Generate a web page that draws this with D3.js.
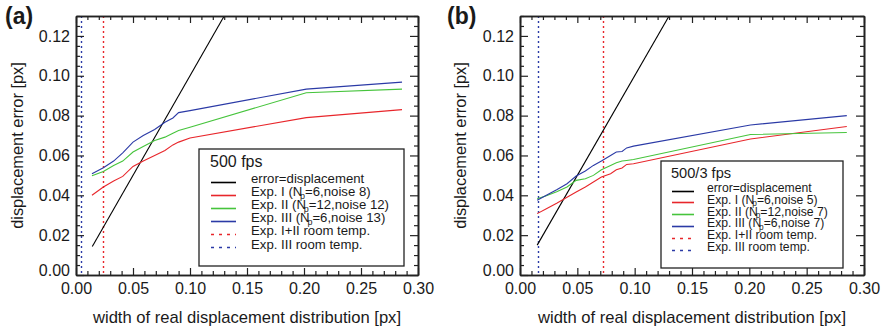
<!DOCTYPE html>
<html><head><meta charset="utf-8">
<script src="https://cdn.jsdelivr.net/npm/d3@7"></script>
<style>
body{margin:0;background:#fff;}
text{font-family:"Liberation Sans",Arial,Helvetica,sans-serif;fill:#1a1a1a;}
</style></head>
<body><svg id="c" width="886" height="332"></svg>
<script>
// ---------- data ----------
const xTicks = [0.00,0.05,0.10,0.15,0.20,0.25,0.30];
const yTicks = [0.00,0.02,0.04,0.06,0.08,0.10,0.12];

// panel (a) 500 fps
const xA    = [0.014,0.024,0.033,0.041,0.050,0.059,0.069,0.078,0.085,0.090,0.100,0.202,0.286];
const expIA  = [0.0400,0.0442,0.0472,0.0495,0.0545,0.0572,0.0600,0.0625,0.0653,0.0667,0.0688,0.0790,0.0830];
const expIIA = [0.0498,0.0520,0.0550,0.0572,0.0617,0.0645,0.0675,0.0692,0.0712,0.0725,0.0742,0.0915,0.0933];
const expIIIA= [0.0508,0.0538,0.0572,0.0613,0.0667,0.0700,0.0730,0.0767,0.0788,0.0815,0.0825,0.0933,0.0968];
const errXA = [0.0143,0.13], errYA = [0.0143,0.13];
const roomA = {I_II:0.024, III:0.0044};

// panel (b) 500/3 fps
const xB    = [0.015,0.023,0.032,0.041,0.049,0.057,0.064,0.071,0.079,0.084,0.089,0.093,0.099,0.201,0.285];
const expIB  = [0.0308,0.0332,0.0360,0.0390,0.0417,0.0442,0.0467,0.0492,0.0508,0.0528,0.0537,0.0555,0.0558,0.0683,0.0745];
const expIIB = [0.0383,0.0398,0.0418,0.0442,0.0475,0.0483,0.0500,0.0528,0.0550,0.0563,0.0572,0.0575,0.0580,0.0705,0.0715];
const expIIIB= [0.0375,0.0400,0.0428,0.0458,0.0497,0.0522,0.0550,0.0572,0.0600,0.0617,0.0620,0.0638,0.0647,0.0753,0.0800];
const errXB = [0.015,0.13], errYB = [0.015,0.13];
const roomB = {I_II:0.0724, III:0.0153};

const legendA = {title:"500 fps", noise:[8,12,13]};
const legendB = {title:"500/3 fps", noise:[5,7,7]};

const COL = {black:"#000", red:"#e8262b", green:"#46c43c", blue:"#2b3aa6"};

// ---------- drawing ----------
const svg = d3.select("#c");

function panel(o){
  const g = svg.append("g");
  const x = d3.scaleLinear().domain([0,0.30]).range([o.left,o.right]);
  const y = d3.scaleLinear().domain([0,0.13]).range([o.bottom,o.top]);
  const clipId = "clip"+o.id;
  g.append("clipPath").attr("id",clipId).append("rect")
    .attr("x",o.left).attr("y",o.top).attr("width",o.right-o.left).attr("height",o.bottom-o.top);

  const plot = g.append("g").attr("clip-path",`url(#${clipId})`);
  // vertical dotted room temp lines
  [[o.room.III,COL.blue],[o.room.I_II,COL.red]].forEach(([v,c])=>{
    const px = Math.round(x(v))+0.5;
    plot.append("line").attr("x1",px).attr("x2",px).attr("y1",o.top).attr("y2",o.bottom)
      .attr("stroke",c).attr("stroke-width",1.4).attr("stroke-dasharray","2,3");
  });
  const line = d3.line().x(d=>x(d[0])).y(d=>y(d[1]));
  const series = [
    [d3.zip(o.errX,o.errY),COL.black],
    [d3.zip(o.xs,o.s1),COL.red],
    [d3.zip(o.xs,o.s2),COL.green],
    [d3.zip(o.xs,o.s3),COL.blue]
  ];
  series.forEach(([d,c])=>{
    plot.append("path").datum(d).attr("d",line).attr("fill","none").attr("stroke",c).attr("stroke-width",1.1);
  });

  // axes
  const xMinor = d3.range(0,0.3001,0.01).filter(v=>Math.abs(v*20-Math.round(v*20))>1e-6);
  const yMinor = d3.range(0,0.1301,0.005).filter(v=>Math.abs(v*50-Math.round(v*50))>1e-6);
  const fmt = d3.format(".2f");
  const styleAx = sel=>{sel.selectAll("path").attr("stroke","#222").attr("stroke-width",1.6);
    sel.selectAll("line").attr("stroke","#222").attr("stroke-width",1.2);
    sel.selectAll("text").attr("font-size","16px").attr("fill","#1a1a1a").attr("font-family",null);};

  const bx = g.append("g").attr("transform",`translate(0,${o.bottom})`)
    .call(d3.axisBottom(x).tickValues(xTicks).tickFormat(fmt).tickSizeInner(-7).tickSizeOuter(0).tickPadding(8));
  styleAx(bx);
  g.append("g").attr("transform",`translate(0,${o.bottom})`)
    .call(d3.axisBottom(x).tickValues(xMinor).tickFormat("").tickSizeInner(-4).tickSizeOuter(0)).call(styleAx);
  g.append("g").attr("transform",`translate(0,${o.top})`)
    .call(d3.axisTop(x).tickValues(xTicks).tickFormat("").tickSizeInner(-7).tickSizeOuter(0)).call(styleAx);
  g.append("g").attr("transform",`translate(0,${o.top})`)
    .call(d3.axisTop(x).tickValues(xMinor).tickFormat("").tickSizeInner(-4).tickSizeOuter(0)).call(styleAx);

  const ly = g.append("g").attr("transform",`translate(${o.left},0)`)
    .call(d3.axisLeft(y).tickValues(yTicks).tickFormat(fmt).tickSizeInner(-8).tickSizeOuter(0).tickPadding(6));
  styleAx(ly);
  ly.selectAll(".tick text").filter(d=>d===0).attr("dy","0.0em");
  g.append("g").attr("transform",`translate(${o.left},0)`)
    .call(d3.axisLeft(y).tickValues(yMinor).tickFormat("").tickSizeInner(-4).tickSizeOuter(0)).call(styleAx);
  g.append("g").attr("transform",`translate(${o.right},0)`)
    .call(d3.axisRight(y).tickValues(yTicks).tickFormat("").tickSizeInner(-8).tickSizeOuter(0)).call(styleAx);
  g.append("g").attr("transform",`translate(${o.right},0)`)
    .call(d3.axisRight(y).tickValues(yMinor).tickFormat("").tickSizeInner(-4).tickSizeOuter(0)).call(styleAx);

  // axis titles
  g.append("text").attr("x",(o.left+o.right)/2).attr("y",323).attr("text-anchor","middle")
    .attr("font-size","16.6px").text("width of real displacement distribution [px]");
  g.append("text").attr("transform",`translate(${o.ylabX},${(o.top+o.bottom)/2}) rotate(-90)`)
    .attr("text-anchor","middle").attr("font-size","16.4px").text("displacement error [px]");
  g.append("text").attr("x",o.tagX).attr("y",24).attr("font-size","23px").attr("font-weight","bold")
    .attr("fill","#111").text(o.tag);

  // legend
  const L = o.leg;
  g.append("rect").attr("x",L.x).attr("y",L.y).attr("width",L.w).attr("height",L.h)
    .attr("fill","#fff").attr("stroke","#222").attr("stroke-width",1.3);
  g.append("text").attr("x",L.tx0).attr("y",L.titleY).attr("font-size",L.titleFs+"px").text(o.legend.title);
  const items = [
    {c:COL.black,dash:null,t:["error=displacement"]},
    {c:COL.red,dash:null,t:["Exp. I (N","p",`=6,noise ${o.legend.noise[0]})`]},
    {c:COL.green,dash:null,t:["Exp. II (N","p",`=12,noise ${o.legend.noise[1]})`]},
    {c:COL.blue,dash:null,t:["Exp. III (N","p",`=6,noise ${o.legend.noise[2]})`]},
    {c:COL.red,dash:"3,5",t:["Exp. I+II room temp."]},
    {c:COL.blue,dash:"3,5",t:["Exp. III room temp."]}
  ];
  items.forEach((it,i)=>{
    const yy = L.row0 + i*L.dy;
    const ly0 = Math.round(yy-L.lineOff)+0.5;
    g.append("line").attr("x1",L.lx0).attr("x2",L.lx1).attr("y1",ly0).attr("y2",ly0)
      .attr("stroke",it.c).attr("stroke-width",it.dash?1.5:1.6).attr("stroke-dasharray",it.dash);
    const t = g.append("text").attr("x",L.tx).attr("y",yy).attr("font-size",L.fs+"px");
    if(it.t.length===1){ t.text(it.t[0]); }
    else{
      t.append("tspan").text(it.t[0]);
      t.append("tspan").attr("font-size",(L.fs*0.68)+"px").attr("dx","-0.25em").attr("dy","0.3em").text(it.t[1]);
      t.append("tspan").attr("dy","-0.2em").text(it.t[2]);
    }
  });
}

panel({id:"a",left:76,right:418,top:16,bottom:275,xs:xA,s1:expIA,s2:expIIA,s3:expIIIA,
  errX:errXA,errY:errYA,room:roomA,legend:legendA,ylabX:23,tagX:5,tag:"(a)",
  leg:{x:199,y:149,w:205,h:117,tx0:210,titleY:167,titleFs:16,lx0:211,lx1:236,tx:251,row0:183,dy:13.1,fs:13.2,lineOff:1.5}});
panel({id:"b",left:520,right:864,top:16,bottom:275,xs:xB,s1:expIB,s2:expIIB,s3:expIIIB,
  errX:errXB,errY:errYB,room:roomB,legend:legendB,ylabX:466,tagX:447,tag:"(b)",
  leg:{x:661,y:161,w:182,h:107,tx0:671,titleY:178,titleFs:14.6,lx0:672,lx1:694,tx:707,row0:192,dy:11.8,fs:12.2,lineOff:1.5}});
</script></body></html>
